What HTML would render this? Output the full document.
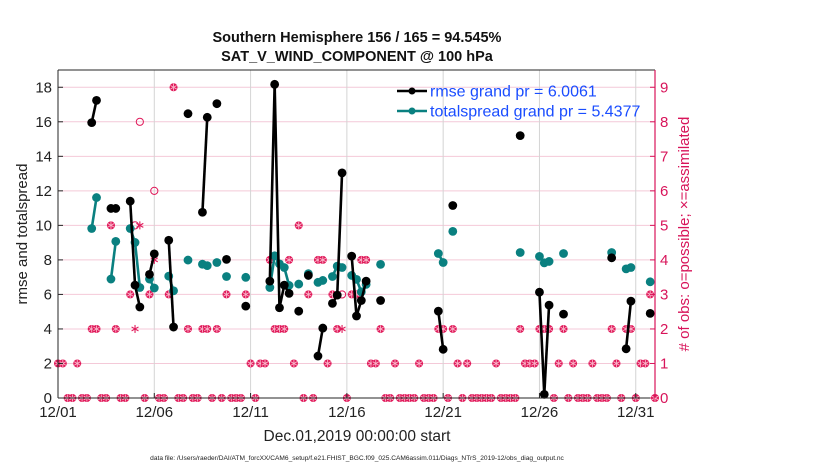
<!DOCTYPE html>
<html><head><meta charset="utf-8"><style>
html,body{margin:0;padding:0;background:#fff;width:830px;height:470px;overflow:hidden}
svg text{font-family:"Liberation Sans",sans-serif}
</style></head><body>
<svg id="chart" width="830" height="470" viewBox="0 0 830 470">
<text x="357" y="42" text-anchor="middle" font-size="14.5" font-weight="bold" fill="#111">Southern Hemisphere 156 / 165 = 94.545%</text>
<text x="357" y="61" text-anchor="middle" font-size="14.5" font-weight="bold" fill="#111">SAT_V_WIND_COMPONENT @ 100 hPa</text>
<g id="grid"></g>
<g id="obs"></g>
<g id="series"></g>
<g id="axes"></g>
<text transform="translate(27,234) rotate(-90)" text-anchor="middle" font-size="15" fill="#222">rmse and totalspread</text>
<text transform="translate(689,234) rotate(-90)" text-anchor="middle" font-size="15" fill="#d8145a"># of obs: o=possible; ×=assimilated</text>
<text x="357" y="441" text-anchor="middle" font-size="15.5" fill="#222">Dec.01,2019 00:00:00 start</text>
<text x="357" y="460" text-anchor="middle" font-size="6.6" fill="#222">data file: /Users/raeder/DAI/ATM_forcXX/CAM6_setup/f.e21.FHIST_BGC.f09_025.CAM6assim.011/Diags_NTrS_2019-12/obs_diag_output.nc</text>
<g id="legend"></g>
</svg>
<script>
const xTickLabels = ["12/01","12/06","12/11","12/16","12/21","12/26","12/31"];
const xTickDays = [0,5,10,15,20,25,30];
const yTicksLeft = [0,2,4,6,8,10,12,14,16,18];
const yTicksRight = [0,1,2,3,4,5,6,7,8,9];
const rmseT = [1.75,2,2.75,3,3.75,4,4.25,4.75,5,5.75,6,6.75,7.5,7.75,8.25,8.75,9.75,11,11.25,11.5,11.75,12,12.5,13,13.5,13.75,14.25,14.5,14.75,15.25,15.5,15.75,16,16.75,19.75,20,20.5,24,25,25.25,25.5,26.25,28.75,29.5,29.75,30.75];
const rmseV = [15.95,17.24,10.98,10.98,11.4,6.54,5.27,7.16,8.35,9.14,4.11,16.47,10.76,16.26,17.05,8.03,5.32,6.77,18.17,5.23,6.54,6.06,5.03,7.10,2.43,4.05,5.48,5.96,13.04,8.22,4.75,5.65,6.77,5.65,5.03,2.82,11.15,15.2,6.13,0.21,5.38,4.86,8.12,2.85,5.61,4.90];
const spreadV = [9.82,11.61,6.89,9.07,9.82,9.01,6.40,6.89,6.37,7.06,6.21,7.99,7.75,7.67,7.85,7.04,6.99,6.40,8.24,7.77,7.56,6.52,6.60,7.20,6.70,6.81,7.04,7.64,7.56,7.10,6.87,6.15,6.58,7.74,8.37,7.85,9.65,8.43,8.20,7.83,7.91,8.37,8.43,7.48,7.56,6.73];
const obsPoss = [1,1,0,0, 1,0,0,2, 2,0,0,5, 2,0,0,3, 5,8,0,3, 6,0,0,3, 9,0,0,2, 0,0,2,2, 0,2,0,3, 0,0,0,3, 1,0,1,1, 4,2,2,2, 4,1,5,0, 3,0,4,4, 1,3,2,3, 0,3,3,4, 4,1,1,2, 0,0,1,0, 0,0,0,1, 0,0,0,2, 2,0,2,1, 0,1,0,0, 0,0,0,1, 0,0,0,0, 2,1,1,1, 2,2,2,0, 1,2,0,1, 0,0,0,1, 0,0,0,2, 1,0,2,2, 0,1,1,3, 0];
const obsAssim = [1,1,0,0, 1,0,0,2, 2,0,0,5, 2,0,0,3, 2,5,0,3, 4,0,0,3, 9,0,0,2, 0,0,2,2, 0,2,0,3, 0,0,0,3, 1,0,1,1, 4,2,2,2, 4,1,5,0, 3,0,4,4, 1,3,2,2, 0,3,3,4, 4,1,1,2, 0,0,1,0, 0,0,0,1, 0,0,0,2, 2,0,2,1, 0,1,0,0, 0,0,0,1, 0,0,0,0, 2,1,1,1, 2,2,2,0, 1,2,0,1, 0,0,0,1, 0,0,0,2, 1,0,2,2, 0,1,1,3, 0];
const legendLabels = ["rmse grand pr = 6.0061","totalspread grand pr = 5.4377"];

const NS="http://www.w3.org/2000/svg";
const L=58,R=655,T=70,B=398, XMAX=31, YMAX=19, RMAX=9.5;
const xs=d=>L+d*(R-L)/XMAX;
const ys=v=>B-v*(B-T)/YMAX;
const yr=n=>B-n*(B-T)/RMAX;
function mk(tag,attrs,parent){const e=document.createElementNS(NS,tag);for(const k in attrs)e.setAttribute(k,attrs[k]);parent.appendChild(e);return e;}
const grid=document.getElementById('grid'),axes=document.getElementById('axes'),obs=document.getElementById('obs'),ser=document.getElementById('series'),leg=document.getElementById('legend');
mk('rect',{x:L,y:T,width:R-L,height:B-T,fill:'#fff'},grid);
yTicksRight.forEach(n=>{const l=mk('line',{x1:L,x2:R,y1:yr(n),y2:yr(n),stroke:'#f4c9d8','stroke-width':1},grid);

});
xTickDays.forEach(d=>{const l=mk('line',{x1:xs(d),x2:xs(d),y1:T,y2:B,stroke:'#d4d4d4','stroke-width':1},grid);

});
mk('line',{x1:L,x2:R,y1:T,y2:T,stroke:'#262626','stroke-width':1},axes);
mk('line',{x1:L,x2:R,y1:B,y2:B,stroke:'#262626','stroke-width':1},axes);
mk('line',{x1:L,x2:L,y1:T,y2:B,stroke:'#262626','stroke-width':1},axes);
mk('line',{x1:R,x2:R,y1:T,y2:B,stroke:'#d8145a','stroke-width':1.2},axes);
yTicksLeft.forEach(v=>{mk('line',{x1:L,x2:L+5,y1:ys(v),y2:ys(v),stroke:'#262626'},axes);
const t=mk('text',{x:L-6,y:ys(v)+5,'text-anchor':'end','font-size':15,fill:'#222'},axes);t.textContent=v;

});
yTicksRight.forEach(n=>{mk('line',{x1:R-5,x2:R,y1:yr(n),y2:yr(n),stroke:'#d8145a'},axes);
const t=mk('text',{x:R+5,y:yr(n)+5,'font-size':15,fill:'#d8145a'},axes);t.textContent=n;

});
xTickDays.forEach((d,i)=>{mk('line',{x1:xs(d),x2:xs(d),y1:B,y2:B-5,stroke:'#262626'},axes);
const t=mk('text',{x:xs(d),y:B+19,'text-anchor':'middle','font-size':15,fill:'#222'},axes);t.textContent=xTickLabels[i];

});
const PINK='#e0195a';
function asterisk(cx,cy,r,col,parent,w){[[0,1],[0.866,0.5],[0.866,-0.5]].forEach(([a,b])=>mk('line',{x1:cx-a*r,y1:cy-b*r,x2:cx+a*r,y2:cy+b*r,stroke:col,'stroke-width':w},parent));}
obsPoss.forEach((p,i)=>{const d=i*0.25,cx=xs(d);const a=obsAssim[i];
const g=mk('g',{},obs);


if(a===p){mk('circle',{cx:cx,cy:yr(p),r:4,fill:PINK},g);asterisk(cx,yr(p),3.6,'#f8b5c9',g,0.9);}
else{mk('circle',{cx:cx,cy:yr(p),r:3.6,fill:'none',stroke:PINK,'stroke-width':1},g);asterisk(cx,yr(a),4,PINK,g,1.1);}
});
function drawSeries(vals,col,name){
 const g=mk('g',{},ser);
 
 
 for(let i=1;i<rmseT.length;i++){if(Math.abs(rmseT[i]-rmseT[i-1]-0.25)<1e-6){
  mk('line',{x1:xs(rmseT[i-1]),y1:ys(vals[i-1]),x2:xs(rmseT[i]),y2:ys(vals[i]),stroke:col,'stroke-width':2.6},g);}}
 vals.forEach((v,i)=>{const c=mk('circle',{cx:xs(rmseT[i]),cy:ys(v),r:4.4,fill:col},g);
 
 });
}
drawSeries(spreadV,'#0a8080','totalspread-series');
drawSeries(rmseV,'#000','rmse-series');
[['#000',91],['#0a8080',111]].forEach(([c,y],i)=>{
 const g=mk('g',{},leg);
 
 
 mk('line',{x1:397,x2:427,y1:y,y2:y,stroke:c,'stroke-width':2.6},g);
 mk('circle',{cx:412,cy:y,r:3.5,fill:c},g);
 const t=mk('text',{x:430,y:y+5.5,'font-size':16,fill:'#1a4dff'},g);t.textContent=legendLabels[i];
});
</script>
</body></html>
